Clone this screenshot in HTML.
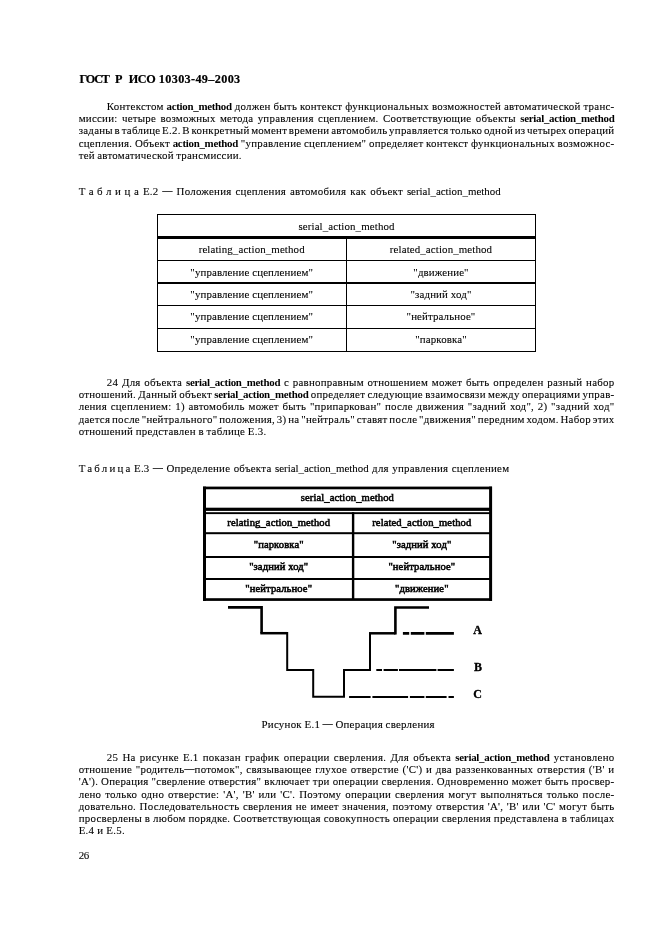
<!DOCTYPE html>
<html lang="ru">
<head>
<meta charset="utf-8">
<title>ГОСТ Р ИСО 10303-49—2003</title>
<style>
html,body{margin:0;padding:0;background:#fff;}
body{width:661px;height:936px;position:relative;overflow:hidden;font-family:"Liberation Serif",serif;color:#000;}
#pg{position:absolute;left:0;top:0;width:661px;height:936px;will-change:transform;}
.l,.c{-webkit-text-stroke:0.1px #000;position:absolute;font-size:10.9px;line-height:13px;height:13px;white-space:nowrap;letter-spacing:0.26px;}
b{font-weight:bold;letter-spacing:-0.28px;-webkit-text-stroke:0;}
.hd{-webkit-text-stroke:0.2px #000;position:absolute;left:79.5px;top:72px;font-size:12.2px;line-height:14px;font-weight:bold;white-space:nowrap;}
.sp{letter-spacing:2.2px;}
.d{font-size:9.8px;-webkit-text-stroke:0.25px #000;position:relative;top:-1px;}
.en{letter-spacing:0;}
.c{text-align:center;width:180px;margin-left:-90px;letter-spacing:0.12px;}
.k{font-size:10.6px;letter-spacing:0.1px;-webkit-text-stroke:0.55px #000;}
.lab{position:absolute;font-size:12px;line-height:14px;font-weight:bold;-webkit-text-stroke:0.3px #000;}
svg{position:absolute;left:0;top:0;}
</style>
</head>
<body>
<div id="pg">
<div class="l" style="left:106.8px;top:100px;word-spacing:-0.095px">Контекстом <b>action_method</b> должен быть контекст функциональных возможностей автоматической транс-</div>
<div class="l" style="left:78.7px;top:112px;word-spacing:1.329px">миссии: четыре возможных метода управления сцеплением. Соответствующие объекты <b>serial_action_method</b></div>
<div class="l" style="left:78.7px;top:124px;word-spacing:-1.302px">заданы в таблице Е.2. В конкретный момент времени автомобиль управляется только одной из четырех операций</div>
<div class="l" style="left:78.7px;top:137px;word-spacing:-0.303px">сцепления. Объект <b>action_method</b> "управление сцеплением" определяет контекст функциональных возможнос-</div>
<div class="l" style="left:78.7px;top:149px;word-spacing:-0.654px">тей автоматической трансмиссии.</div>
<div class="l" style="left:78.7px;top:185px;word-spacing:0.974px"><span class="sp" style="letter-spacing:3.6px">Таблиц</span>а Е.2 <span class="d">—</span> Положения сцепления автомобиля как объект <span class="en">serial_action_method</span></div>
<div class="l" style="left:106.8px;top:376px;word-spacing:0.750px">24 Для объекта <b>serial_action_method</b> с равноправным отношением может быть определен разный набор</div>
<div class="l" style="left:78.7px;top:388px;word-spacing:-0.686px">отношений. Данный объект <b>serial_action_method</b> определяет следующие взаимосвязи между операциями управ-</div>
<div class="l" style="left:78.7px;top:400px;word-spacing:0.732px">ления сцеплением: 1) автомобиль может быть "припаркован" после движения "задний ход", 2) "задний ход"</div>
<div class="l" style="left:78.7px;top:413px;word-spacing:-1.186px">дается после "нейтрального" положения, 3) на "нейтраль" ставят после "движения" передним ходом. Набор этих</div>
<div class="l" style="left:78.7px;top:425px;word-spacing:-0.326px">отношений представлен в таблице Е.3.</div>
<div class="l" style="left:78.7px;top:462px;word-spacing:0.418px"><span class="sp">Таблиц</span>а Е.3 <span class="d">—</span> Определение объекта <span class="en">serial_action_method</span> для управления сцеплением</div>
<div class="l" style="left:261.5px;top:718px;word-spacing:-0.383px">Рисунок Е.1 <span class="d">—</span> Операция сверления</div>
<div class="l" style="left:106.8px;top:751px;word-spacing:1.229px">25 На рисунке Е.1 показан график операции сверления. Для объекта <b>serial_action_method</b> установлено</div>
<div class="l" style="left:78.7px;top:763px;word-spacing:0.694px">отношение "родитель<span class="d">—</span>потомок", связывающее глухое отверстие ('С') и два раззенкованных отверстия ('В' и</div>
<div class="l" style="left:78.7px;top:775px;word-spacing:-0.029px">'А'). Операция "сверление отверстия" включает три операции сверления. Одновременно может быть просвер-</div>
<div class="l" style="left:78.7px;top:788px;word-spacing:0.916px">лено только одно отверстие: 'А', 'В' или 'С'. Поэтому операции сверления могут выполняться только после-</div>
<div class="l" style="left:78.7px;top:800px;word-spacing:0.512px">довательно. Последовательность сверления не имеет значения, поэтому отверстия 'А', 'В' или 'С' могут быть</div>
<div class="l" style="left:78.7px;top:812px;word-spacing:-0.157px">просверлены в любом порядке. Соответствующая совокупность операции сверления представлена в таблицах</div>
<div class="l" style="left:78.7px;top:824px">Е.4 и Е.5.</div>
<div class="l" style="left:78.7px;top:849px"><span style="letter-spacing:-0.3px">26</span></div>
<div class="hd" style="left:79.6px;letter-spacing:-1.2px">ГОСТ</div><div class="hd" style="left:115.1px">Р</div><div class="hd" style="left:128.7px;letter-spacing:-0.3px">ИСО</div><div class="hd" style="left:158.8px;letter-spacing:0.35px">10303-49–2003</div>



<svg width="661" height="936" viewBox="0 0 661 936" shape-rendering="crispEdges">
<g fill="#000">
<!-- table E.2 -->
<rect x="157" y="214" width="379" height="1"/>
<rect x="157" y="236" width="379" height="2.6"/>
<rect x="157" y="260" width="379" height="1"/>
<rect x="157" y="282.2" width="379" height="1.7"/>
<rect x="157" y="305" width="379" height="1"/>
<rect x="157" y="328" width="379" height="1"/>
<rect x="157" y="351" width="379" height="1"/>
<rect x="157" y="214" width="1" height="138"/>
<rect x="346" y="237" width="1" height="115"/>
<rect x="535" y="214" width="1" height="138"/>
</g>
</svg>

<div class="c" style="left:346.5px;top:220px">serial_action_method</div>
<div class="c" style="left:251.7px;top:243px">relating_action_method</div>
<div class="c" style="left:441px;top:243px">related_action_method</div>
<div class="c" style="left:251.7px;top:266px">"управление сцеплением"</div>
<div class="c" style="left:441px;top:266px">"движение"</div>
<div class="c" style="left:251.7px;top:288px">"управление сцеплением"</div>
<div class="c" style="left:441px;top:288px">"задний ход"</div>
<div class="c" style="left:251.7px;top:310px">"управление сцеплением"</div>
<div class="c" style="left:441px;top:310px">"нейтральное"</div>
<div class="c" style="left:251.7px;top:333px">"управление сцеплением"</div>
<div class="c" style="left:441px;top:333px">"парковка"</div>



<svg width="661" height="936" viewBox="0 0 661 936">
<g fill="#000">
<!-- table E.3 -->
<rect x="203" y="486.6" width="289" height="2.7"/>
<rect x="203" y="598.2" width="289" height="2.7"/>
<rect x="203" y="486.6" width="3" height="114.3"/>
<rect x="489.1" y="486.6" width="3" height="114.3"/>
<rect x="203" y="507.7" width="289" height="3.2"/>
<rect x="203" y="512.2" width="289" height="1.9"/>
<rect x="203" y="532.2" width="289" height="2"/>
<rect x="203" y="556" width="289" height="2"/>
<rect x="203" y="578" width="289" height="2"/>
<rect x="351.9" y="512.2" width="2.4" height="87"/>
</g>
<g fill="none" stroke="#000" stroke-linejoin="miter" stroke-linecap="butt">
<!-- figure E.1 -->
<path d="M228,607.4 H261.6 V633.2" stroke-width="2.6"/>
<path d="M260.3,633.2 H287.2" stroke-width="2.5"/>
<path d="M287.2,632 V669.9 H313.2 V696.7 H344 V670 H370 V633.3" stroke-width="2"/>
<path d="M369,633.3 H395.4" stroke-width="2.5"/>
<path d="M395.4,634.5 V607.5 H429" stroke-width="2.6"/>
<path d="M402.9,633.4 H409.2 M410.8,633.4 H424.4 M425.8,633.4 H453.9" stroke-width="2.6"/>
<path d="M376.3,670 H382 M383.6,670 H397.9 M399,670 H436.4 M437.6,670 H453.9" stroke-width="2"/>
<path d="M349.1,697 H370.6 M372.4,697 H408.1 M409.9,697 H424.4 M425.8,697 H446.6 M448.5,697 H453.9" stroke-width="2"/>
</g>
</svg>

<div class="c k" style="left:347.4px;top:490.6px">serial_action_method</div>
<div class="c k" style="left:278.7px;top:516.3px">relating_action_method</div>
<div class="c k" style="left:421.8px;top:516.3px">related_action_method</div>
<div class="c k" style="left:278.7px;top:538.4px">"парковка"</div>
<div class="c k" style="left:421.8px;top:538.4px">"задний ход"</div>
<div class="c k" style="left:278.7px;top:560.4px">"задний ход"</div>
<div class="c k" style="left:421.8px;top:560.4px">"нейтральное"</div>
<div class="c k" style="left:278.7px;top:582.3px">"нейтральное"</div>
<div class="c k" style="left:421.8px;top:582.3px">"движение"</div>




<div class="lab" style="left:473.3px;top:623px">A</div>
<div class="lab" style="left:474px;top:660px">B</div>
<div class="lab" style="left:473.3px;top:687px">C</div>
</div>
</body>
</html>
